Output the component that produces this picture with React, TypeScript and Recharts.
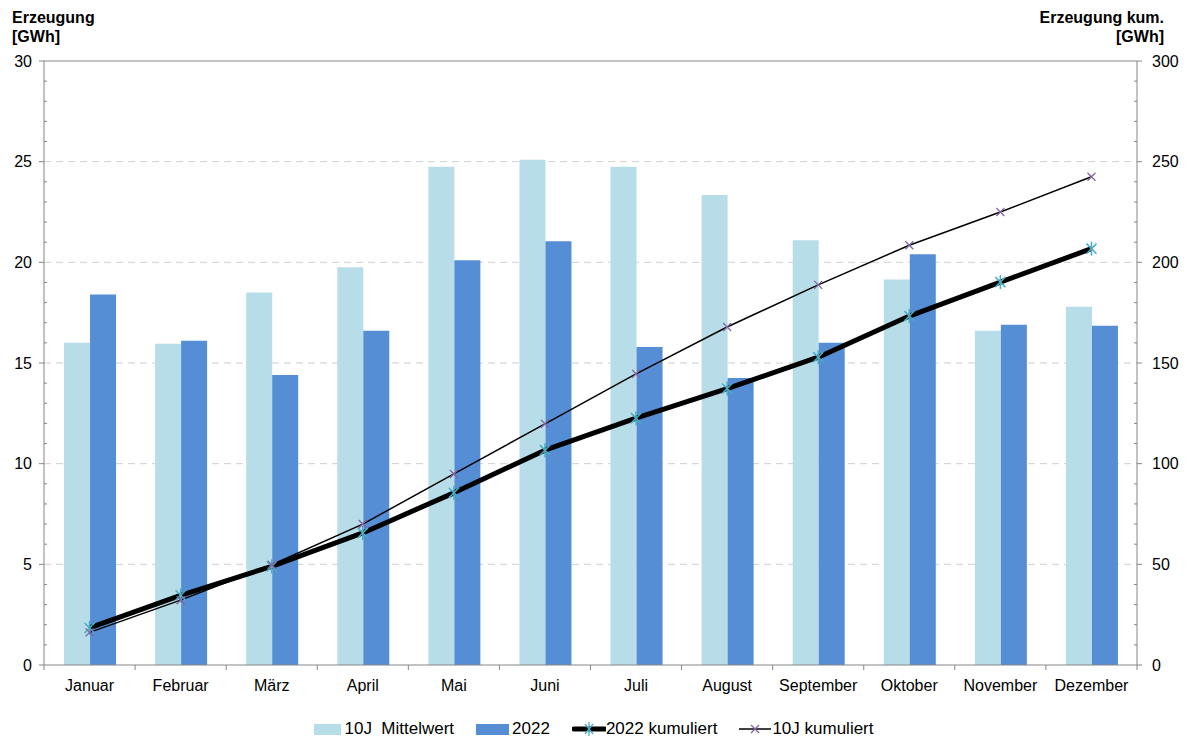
import React from 'react';
import { ComposedChart, Bar, Line, XAxis, YAxis, CartesianGrid, ReferenceLine, Legend } from 'recharts';

const months = ['Januar', 'Februar', 'März', 'April', 'Mai', 'Juni', 'Juli', 'August', 'September', 'Oktober', 'November', 'Dezember'];
const mittel10J = [16.0, 15.95, 18.5, 19.75, 24.75, 25.1, 24.75, 23.35, 21.1, 19.15, 16.6, 17.8];
const prod2022 = [18.4, 16.1, 14.4, 16.6, 20.1, 21.05, 15.8, 14.25, 16.0, 20.4, 16.9, 16.85];
const kum2022 = [18.4, 34.6, 49.0, 65.6, 85.5, 106.7, 122.6, 137.3, 152.9, 173.3, 190.2, 206.8];
const kum10J = [16.2, 32.2, 49.8, 70.0, 94.9, 119.8, 144.6, 167.9, 188.8, 208.5, 225.0, 242.5];

const leftTicks = [0, 1, 2, 3, 4, 5, 6, 7, 8, 9, 10, 11, 12, 13, 14, 15, 16, 17, 18, 19, 20, 21, 22, 23, 24, 25, 26, 27, 28, 29, 30];
const rightTicks = [0, 10, 20, 30, 40, 50, 60, 70, 80, 90, 100, 110, 120, 130, 140, 150, 160, 170, 180, 190, 200, 210, 220, 230, 240, 250, 260, 270, 280, 290, 300];
const gridValues = [5, 10, 15, 20, 25];

const seriesNames = ['10J  Mittelwert', '2022', '2022 kumuliert', '10J kumuliert'];

const data = months.map((m, i) => ({
  month: m,
  mittel: mittel10J[i],
  p2022: prod2022[i],
  k2022: kum2022[i],
  k10: kum10J[i],
}));

const FONT = '"Liberation Sans", Arial, sans-serif';
const AXIS = '#868686';
const LIGHT = '#B7DDE8';
const DARK = '#558ED5';
const TEAL = '#4BACC6';
const PURPLE = '#8064A2';

const LeftTick = (props: any) => {
  const { x, y, payload } = props;
  const v = payload.value;
  const major = v % 5 === 0;
  return (
    <g>
      {major ? (
        <line x1={x - 5} x2={x} y1={y} y2={y} stroke={AXIS} strokeWidth={1} />
      ) : (
        <line x1={x} x2={x + 3} y1={y} y2={y} stroke={AXIS} strokeWidth={1} />
      )}
      {major && (
        <text x={x - 12} y={y} textAnchor="end" dominantBaseline="central" fontSize={16} fontFamily={FONT} fill="#000">
          {v}
        </text>
      )}
    </g>
  );
};

const RightTick = (props: any) => {
  const { x, y, payload } = props;
  const v = payload.value;
  const major = v % 50 === 0;
  return (
    <g>
      {major ? (
        <line x1={x} x2={x + 5} y1={y} y2={y} stroke={AXIS} strokeWidth={1} />
      ) : (
        <line x1={x - 3} x2={x} y1={y} y2={y} stroke={AXIS} strokeWidth={1} />
      )}
      {major && (
        <text x={x + 15} y={y} textAnchor="start" dominantBaseline="central" fontSize={16} fontFamily={FONT} fill="#000">
          {v}
        </text>
      )}
    </g>
  );
};

const BottomTick = (props: any) => {
  const { x, y, payload, index } = props;
  const off = payload && typeof payload.offset === 'number' && payload.offset > 0 ? payload.offset : 45.54;
  return (
    <g>
      <line x1={x - off} x2={x - off} y1={y} y2={y + 5} stroke={AXIS} strokeWidth={1} />
      {index === months.length - 1 && (
        <line x1={x + off} x2={x + off} y1={y} y2={y + 5} stroke={AXIS} strokeWidth={1} />
      )}
      <text x={x} y={y + 20} textAnchor="middle" dominantBaseline="central" fontSize={16} fontFamily={FONT} fill="#000">
        {payload.value}
      </text>
    </g>
  );
};

const StarDot = (props: any) => {
  const { cx, cy, index } = props;
  if (cx == null || cy == null) return <g key={`s${index}`} />;
  const r = 7;
  const d = r * 0.72;
  return (
    <g key={`s${index}`}>
      <line x1={cx - d} y1={cy - d} x2={cx + d} y2={cy + d} stroke={TEAL} strokeWidth={1.5} />
      <line x1={cx - d} y1={cy + d} x2={cx + d} y2={cy - d} stroke={TEAL} strokeWidth={1.5} />
      <line x1={cx} y1={cy - r} x2={cx} y2={cy + r} stroke={TEAL} strokeWidth={1.5} />
    </g>
  );
};

const XDot = (props: any) => {
  const { cx, cy, index } = props;
  if (cx == null || cy == null) return <g key={`x${index}`} />;
  const d = 4;
  return (
    <g key={`x${index}`}>
      <line x1={cx - d} y1={cy - d} x2={cx + d} y2={cy + d} stroke={PURPLE} strokeWidth={1.3} />
      <line x1={cx - d} y1={cy + d} x2={cx + d} y2={cy - d} stroke={PURPLE} strokeWidth={1.3} />
    </g>
  );
};

const LegendContent = () => {
  const textStyle: React.CSSProperties = { fontSize: 17, fontFamily: FONT, color: '#000', whiteSpace: 'pre', lineHeight: '20px' };
  return (
    <div style={{ height: 32, display: 'flex', alignItems: 'center', justifyContent: 'center', paddingTop: 16, boxSizing: 'border-box' }}>
      <div style={{ display: 'flex', alignItems: 'center', marginRight: 22 }}>
        <div style={{ width: 27, height: 11, background: LIGHT, marginRight: 3 }} />
        <span style={textStyle}>{seriesNames[0]}</span>
      </div>
      <div style={{ display: 'flex', alignItems: 'center', marginRight: 22 }}>
        <div style={{ width: 33, height: 11, background: DARK, marginRight: 3 }} />
        <span style={textStyle}>{seriesNames[1]}</span>
      </div>
      <div style={{ display: 'flex', alignItems: 'center', marginRight: 21 }}>
        <svg width={34} height={16} style={{ marginRight: 0 }}>
          <line x1={2} x2={33} y1={8} y2={8} stroke="#000" strokeWidth={5} strokeLinecap="round" />
          <line x1={13} y1={3} x2={21} y2={13} stroke={TEAL} strokeWidth={1.3} />
          <line x1={13} y1={13} x2={21} y2={3} stroke={TEAL} strokeWidth={1.3} />
          <line x1={17} y1={1} x2={17} y2={15} stroke={TEAL} strokeWidth={1.3} />
        </svg>
        <span style={textStyle}>{seriesNames[2]}</span>
      </div>
      <div style={{ display: 'flex', alignItems: 'center' }}>
        <svg width={34} height={16} style={{ marginRight: 0 }}>
          <line x1={1} x2={33} y1={8} y2={8} stroke="#000" strokeWidth={1.5} />
          <line x1={13} y1={4} x2={21} y2={12} stroke={PURPLE} strokeWidth={1.2} />
          <line x1={13} y1={12} x2={21} y2={4} stroke={PURPLE} strokeWidth={1.2} />
        </svg>
        <span style={textStyle}>{seriesNames[3]}</span>
      </div>
    </div>
  );
};

export default function App() {
  const titleStyle: React.CSSProperties = {
    position: 'absolute',
    fontFamily: FONT,
    fontWeight: 'bold',
    fontSize: 16,
    lineHeight: '19px',
    color: '#000',
  };
  return (
    <div style={{ position: 'absolute', left: 0, top: 0, width: 1188, height: 737, background: '#fff' }}>
      <ComposedChart
        width={1188}
        height={737}
        data={data}
        margin={{ top: 61, right: 0, bottom: 0, left: 0 }}
        barCategoryGap="22%"
        barGap={0}
      >
        <CartesianGrid
          yAxisId="left"
          vertical={false}
          horizontalValues={gridValues}
          stroke="#d0d0d0"
          strokeDasharray="7 5"
        />
        <XAxis
          dataKey="month"
          height={40}
          tickSize={0}
          tickMargin={0}
          tickLine={false}
          axisLine={{ stroke: AXIS }}
          interval={0}
          tick={<BottomTick />}
        />
        <YAxis
          yAxisId="left"
          orientation="left"
          width={44}
          domain={[0, 30]}
          ticks={leftTicks}
          interval={0}
          tickSize={0}
          tickMargin={0}
          tickLine={false}
          axisLine={{ stroke: AXIS }}
          tick={<LeftTick />}
        />
        <YAxis
          yAxisId="right"
          orientation="right"
          width={51}
          domain={[0, 300]}
          ticks={rightTicks}
          interval={0}
          tickSize={0}
          tickMargin={0}
          tickLine={false}
          axisLine={{ stroke: AXIS }}
          tick={<RightTick />}
        />
        <ReferenceLine yAxisId="left" y={30} stroke={AXIS} strokeWidth={1} />
        <Bar yAxisId="left" dataKey="mittel" name={seriesNames[0]} fill={LIGHT} isAnimationActive={false} />
        <Bar yAxisId="left" dataKey="p2022" name={seriesNames[1]} fill={DARK} isAnimationActive={false} />
        <Line
          yAxisId="right"
          dataKey="k2022"
          name={seriesNames[2]}
          stroke="#000"
          strokeWidth={5}
          strokeLinejoin="round"
          dot={<StarDot />}
          activeDot={false}
          isAnimationActive={false}
        />
        <Line
          yAxisId="right"
          dataKey="k10"
          name={seriesNames[3]}
          stroke="#000"
          strokeWidth={1.5}
          dot={<XDot />}
          activeDot={false}
          isAnimationActive={false}
        />
        <Legend verticalAlign="bottom" height={32} wrapperStyle={{ height: 32 }} content={<LegendContent />} />
      </ComposedChart>
      <div style={{ ...titleStyle, left: 12, top: 8 }}>
        Erzeugung
        <br />
        [GWh]
      </div>
      <div style={{ ...titleStyle, right: 24, top: 8, textAlign: 'right' }}>
        Erzeugung kum.
        <br />
        [GWh]
      </div>
    </div>
  );
}
